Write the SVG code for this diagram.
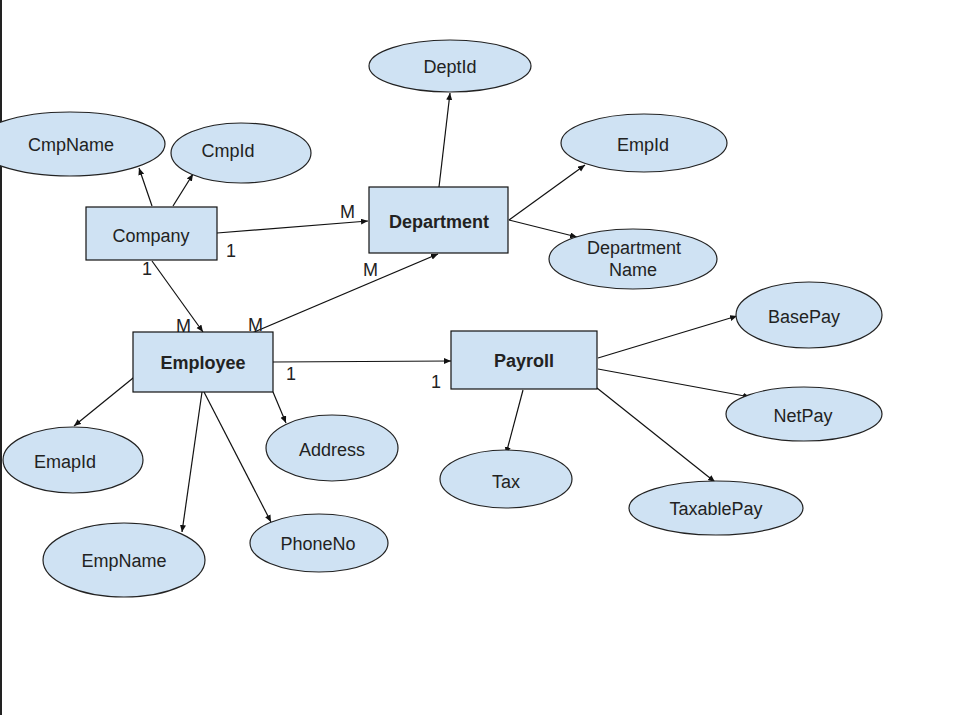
<svg xmlns="http://www.w3.org/2000/svg" width="961" height="715" viewBox="0 0 961 715">
<style>
.ent{fill:#cfe2f3;stroke:#111;stroke-width:1.2}
.att{fill:#cfe2f3;stroke:#222;stroke-width:1.2}
.t{font-family:"Liberation Sans",Arial,sans-serif;font-size:18px;fill:#222;text-anchor:middle}
.b{font-weight:bold}
.lab{font-family:"Liberation Sans",Arial,sans-serif;font-size:18px;fill:#222}
.c line{stroke:#111;stroke-width:1.2;marker-end:url(#ah)}
</style>
<defs>
<marker id="ah" markerUnits="userSpaceOnUse" markerWidth="8" markerHeight="8" refX="7" refY="3" orient="auto">
<path d="M0,0 L7,3 L0,6 Z" fill="#111"/>
</marker>
</defs>
<rect x="0" y="0" width="961" height="715" fill="#fff"/>
<line x1="1" y1="0" x2="1" y2="715" stroke="#222" stroke-width="2"/>

<g class="c" id="connectors">
<line x1="152" y1="206" x2="139" y2="168"/>
<line x1="173" y1="206" x2="193" y2="174"/>
<line x1="217" y1="233" x2="368" y2="221"/>
<line x1="152" y1="261" x2="203" y2="332"/>
<line x1="252" y1="333" x2="438" y2="254"/>
<line x1="439" y1="187" x2="450" y2="93"/>
<line x1="509" y1="220" x2="585" y2="165"/>
<line x1="509" y1="220" x2="577" y2="237"/>
<line x1="273" y1="362" x2="451" y2="361"/>
<line x1="598" y1="358" x2="737" y2="316"/>
<line x1="598" y1="369" x2="750" y2="397"/>
<line x1="523" y1="390" x2="506" y2="454"/>
<line x1="597" y1="388" x2="715" y2="482"/>
<line x1="138" y1="374" x2="74" y2="426"/>
<line x1="202" y1="392" x2="182" y2="532"/>
<line x1="204" y1="392" x2="271" y2="522"/>
<line x1="273" y1="392" x2="286" y2="423"/>
</g>

<g id="labels">
<text class="lab" x="340" y="218">M</text>
<text class="lab" x="226" y="257">1</text>
<text class="lab" x="363" y="276">M</text>
<text class="lab" x="142" y="275">1</text>
<text class="lab" x="176" y="332">M</text>
<text class="lab" x="248" y="331">M</text>
<text class="lab" x="286" y="380">1</text>
<text class="lab" x="431" y="388">1</text>
</g>

<g id="company"><rect class="ent" x="86" y="207" width="131" height="53"/><text class="t" x="151" y="242">Company</text></g>
<g id="department"><rect class="ent" x="369" y="187" width="139" height="66"/><text class="t b" x="439" y="228">Department</text></g>
<g id="employee"><rect class="ent" x="133" y="332" width="140" height="60"/><text class="t b" x="203" y="369">Employee</text></g>
<g id="payroll"><rect class="ent" x="451" y="331" width="146" height="58"/><text class="t b" x="524" y="367">Payroll</text></g>

<g id="cmpname"><ellipse class="att" cx="70" cy="144" rx="95" ry="32"/><text class="t" x="71" y="151">CmpName</text></g>
<g id="cmpid"><ellipse class="att" cx="241" cy="153" rx="70" ry="30"/><text class="t" x="228" y="157">CmpId</text></g>
<g id="deptid"><ellipse class="att" cx="450" cy="66" rx="81" ry="26"/><text class="t" x="450" y="73">DeptId</text></g>
<g id="empid"><ellipse class="att" cx="644" cy="143" rx="83" ry="29"/><text class="t" x="643" y="151">EmpId</text></g>
<g id="deptname"><ellipse class="att" cx="633" cy="259" rx="84" ry="30"/><text class="t" x="634" y="254">Department</text><text class="t" x="633" y="276">Name</text></g>
<g id="basepay"><ellipse class="att" cx="809" cy="315" rx="73" ry="33"/><text class="t" x="804" y="323">BasePay</text></g>
<g id="netpay"><ellipse class="att" cx="804" cy="414" rx="78" ry="27"/><text class="t" x="803" y="422">NetPay</text></g>
<g id="tax"><ellipse class="att" cx="506" cy="479" rx="66" ry="29"/><text class="t" x="506" y="488">Tax</text></g>
<g id="taxablepay"><ellipse class="att" cx="716" cy="508" rx="87" ry="27"/><text class="t" x="716" y="515">TaxablePay</text></g>
<g id="emapid"><ellipse class="att" cx="73" cy="460" rx="70" ry="33"/><text class="t" x="65" y="468">EmapId</text></g>
<g id="address"><ellipse class="att" cx="332" cy="448" rx="66" ry="33"/><text class="t" x="332" y="456">Address</text></g>
<g id="empname"><ellipse class="att" cx="124" cy="560" rx="81" ry="37"/><text class="t" x="124" y="567">EmpName</text></g>
<g id="phoneno"><ellipse class="att" cx="319" cy="543" rx="69" ry="29"/><text class="t" x="318" y="550">PhoneNo</text></g>
</svg>
